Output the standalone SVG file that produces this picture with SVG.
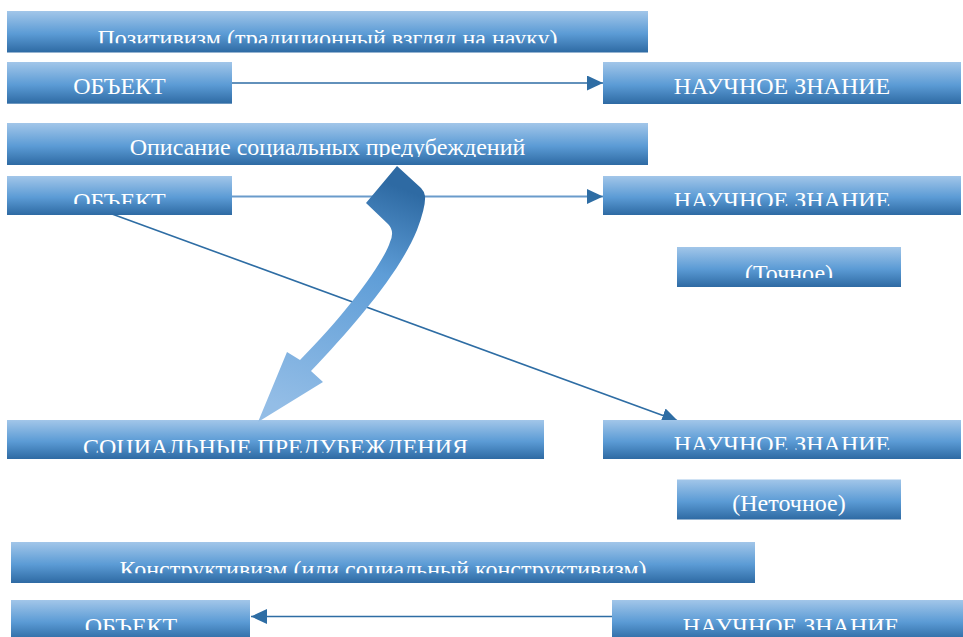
<svg xmlns="http://www.w3.org/2000/svg" width="963" height="637" viewBox="0 0 963 637">
<style>
.box{fill:url(#bg);}
.t{font-family:'Liberation Serif','Times New Roman',serif;font-size:24px;fill:#ffffff;text-anchor:middle;}
.ln{fill:none;stroke:#2E6DA4;stroke-width:1.6;}
.ln2{fill:none;stroke:#6A9BCB;stroke-width:2.2;}
</style>
<defs>
<linearGradient id="bg" x1="0" y1="0" x2="0" y2="1">
<stop offset="0" stop-color="#A2C6E9"/>
<stop offset="0.55" stop-color="#5B9BD5"/>
<stop offset="1" stop-color="#2E6AA3"/>
</linearGradient>
<linearGradient id="ag" gradientUnits="userSpaceOnUse" x1="380" y1="180" x2="290" y2="410">
<stop offset="0" stop-color="#2E6AA3"/>
<stop offset="0.35" stop-color="#5E9DD7"/>
<stop offset="1" stop-color="#93BDE6"/>
</linearGradient>
<marker id="ah" markerUnits="userSpaceOnUse" markerWidth="16" markerHeight="15" refX="16" refY="7.5" orient="auto">
<path d="M0,0 L16,7.5 L0,15 Z" fill="#2E6DA4"/>
</marker>
<clipPath id="c1"><rect x="7" y="11" width="641" height="32.3"/></clipPath>
<clipPath id="c4"><rect x="7" y="123" width="641" height="34"/></clipPath>
<clipPath id="c5"><rect x="7" y="176" width="225" height="28"/></clipPath>
<clipPath id="c6"><rect x="603" y="176" width="358" height="30"/></clipPath>
<clipPath id="c7"><rect x="677" y="247" width="224" height="31"/></clipPath>
<clipPath id="c8"><rect x="7" y="420" width="537" height="32.7"/></clipPath>
<clipPath id="c9"><rect x="603" y="420" width="358" height="29.7"/></clipPath>
<clipPath id="c11"><rect x="11" y="542" width="744" height="31.3"/></clipPath>
<clipPath id="c12"><rect x="11" y="600" width="239" height="30"/></clipPath>
<clipPath id="c13"><rect x="612" y="600" width="351" height="30"/></clipPath>
</defs>

<g id="connectors">
<line class="ln" x1="232" y1="83" x2="603" y2="83" marker-end="url(#ah)"/>
<line class="ln2" x1="232" y1="196.5" x2="603" y2="196.5" marker-end="url(#ah)"/>
<line class="ln" x1="112" y1="214" x2="678" y2="421" marker-end="url(#ah)"/>
<line class="ln" x1="612" y1="616.5" x2="251" y2="616.5" marker-end="url(#ah)"/>
</g>

<g id="n1"><rect class="box" x="7" y="11" width="641" height="41.5"/><text class="t" x="327.5" y="45.5" clip-path="url(#c1)">Позитивизм (традиционный взгляд на науку)</text></g>
<g id="n2"><rect class="box" x="7" y="62" width="225" height="41.7"/><text class="t" x="119.5" y="94">ОБЪЕКТ</text></g>
<g id="n3"><rect class="box" x="603" y="62" width="358" height="42"/><text class="t" x="782" y="94">НАУЧНОЕ ЗНАНИЕ</text></g>
<g id="n4"><rect class="box" x="7" y="123" width="641" height="42"/><text class="t" x="327.5" y="155" clip-path="url(#c4)">Описание социальных предубеждений</text></g>
<g id="n5"><rect class="box" x="7" y="176" width="225" height="39"/><text class="t" x="119.5" y="208.7" clip-path="url(#c5)">ОБЪЕКТ</text></g>
<g id="n6"><rect class="box" x="603" y="176" width="358" height="39"/><text class="t" x="782" y="207.7" clip-path="url(#c6)">НАУЧНОЕ ЗНАНИЕ</text></g>
<g id="n7"><rect class="box" x="677" y="247" width="224" height="40"/><text class="t" x="789" y="281" clip-path="url(#c7)">(Точное)</text></g>
<g id="n8"><rect class="box" x="7" y="420" width="537" height="39"/><text class="t" x="275.5" y="455" clip-path="url(#c8)">СОЦИАЛЬНЫЕ ПРЕДУБЕЖДЕНИЯ</text></g>
<g id="n9"><rect class="box" x="603" y="420" width="358" height="39"/><text class="t" x="782" y="452" clip-path="url(#c9)">НАУЧНОЕ ЗНАНИЕ</text></g>
<g id="n10"><rect class="box" x="677" y="479.5" width="224" height="40"/><text class="t" x="789" y="510.5">(Неточное)</text></g>
<g id="n11"><rect class="box" x="11" y="542" width="744" height="41"/><text class="t" x="383" y="576.5" clip-path="url(#c11)">Конструктивизм (или социальный конструктивизм)</text></g>
<g id="n12"><rect class="box" x="11" y="600" width="239" height="40"/><text class="t" x="131" y="633.5" clip-path="url(#c12)">ОБЪЕКТ</text></g>
<g id="n13"><rect class="box" x="612" y="600" width="355" height="40"/><text class="t" x="791" y="633.5" clip-path="url(#c13)">НАУЧНОЕ ЗНАНИЕ</text></g>

<g id="curved-arrow">
<path d="M397,166 L366,203 L388,224 Q395,231 390,242 C384,262 345,315 300,360 L287,352 L258,422 L323,382 L311,371 C355,325 400,272 417,230 Q426,206 425,196 Q424,191 421,188 Z" fill="url(#ag)"/>
</g>
</svg>
